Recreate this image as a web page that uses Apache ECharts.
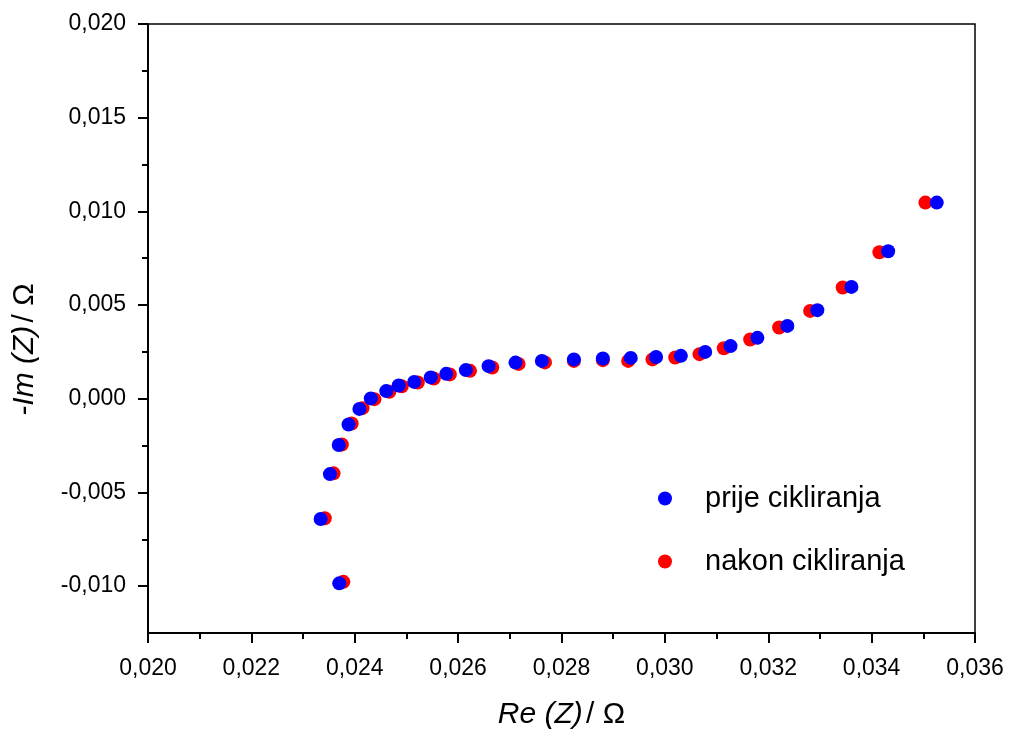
<!DOCTYPE html>
<html>
<head>
<meta charset="utf-8">
<script src="https://cdn.jsdelivr.net/npm/echarts@6/dist/echarts.min.js"></script>
<style>html,body{margin:0;padding:0;background:#fff}#c{width:1009px;height:731px}</style>
</head>
<body>
<div id="c"></div>
<script>
// Data (Ω)
const prijeX = [0.02370, 0.02334, 0.02352, 0.02369, 0.02388, 0.02409, 0.02431, 0.02461, 0.02485, 0.02515, 0.02547, 0.02577, 0.02615, 0.02659, 0.02711, 0.02762, 0.02824, 0.02880, 0.02934, 0.02983, 0.03031, 0.03078, 0.03127, 0.03179, 0.03237, 0.03295, 0.03361, 0.03432, 0.03526];
const prijeY = [-0.00985, -0.00642, -0.00402, -0.00247, -0.00137, -0.00054, 0.00002, 0.00041, 0.00071, 0.00090, 0.00114, 0.00133, 0.00153, 0.00174, 0.00193, 0.00202, 0.00210, 0.00215, 0.00218, 0.00223, 0.00229, 0.00250, 0.00281, 0.00325, 0.00389, 0.00473, 0.00597, 0.00787, 0.01047];
const nakonX = [0.02378, 0.02342, 0.02359, 0.02375, 0.02394, 0.02415, 0.02438, 0.02467, 0.02491, 0.02522, 0.02553, 0.02584, 0.02623, 0.02666, 0.02717, 0.02768, 0.02824, 0.02880, 0.02929, 0.02976, 0.03020, 0.03067, 0.03114, 0.03165, 0.03221, 0.03281, 0.03344, 0.03415, 0.03504];
const nakonY = [-0.00977, -0.00638, -0.00398, -0.00244, -0.00132, -0.00050, -0.00002, 0.00037, 0.00067, 0.00087, 0.00108, 0.00130, 0.00149, 0.00167, 0.00186, 0.00194, 0.00202, 0.00206, 0.00202, 0.00210, 0.00220, 0.00238, 0.00270, 0.00316, 0.00380, 0.00469, 0.00594, 0.00782, 0.01047];
const seriesNames = ['prije cikliranja', 'nakon cikliranja'];
const yMajorTicks = [-0.010, -0.005, 0.000, 0.005, 0.010, 0.015, 0.020];
const yMinorTicks = [-0.0075, -0.0025, 0.0025, 0.0075, 0.0125, 0.0175];

const fmt = v => v.toFixed(3).replace('.', ',').replace(/^-0,000$/, '0,000');
const zip = (xs, ys) => xs.map((x, i) => [x, ys[i]]);
const FONT = 'Arial, "Liberation Sans", sans-serif';

const chart = echarts.init(document.getElementById('c'), null, {renderer: 'canvas'});
chart.setOption({
  animation: false,
  backgroundColor: '#fff',
  grid: {left: 148, right: 34, top: 24, bottom: 98, show: true, borderColor: '#000', borderWidth: 1.5, outerBoundsMode: 'none', containLabel: false},
  legend: {
    orient: 'vertical', left: 653, top: 479,
    data: seriesNames,
    icon: 'circle', itemWidth: 70, itemHeight: 14, itemGap: 34,
    textStyle: {fontFamily: FONT, fontSize: 29, color: '#000', lineHeight: 22}
  },
  xAxis: {
    type: 'value', min: 0.020, max: 0.036, interval: 0.002,
    name: '{i|Re (Z)} {n|/ Ω}', nameLocation: 'middle', nameGap: 67,
    nameTextStyle: {rich: {i: {fontFamily: FONT, fontSize: 30, fontStyle: 'italic', color: '#000'}, n: {fontFamily: FONT, fontSize: 30, color: '#000'}}},
    axisLine: {show: true, onZero: false, lineStyle: {color: '#000', width: 2}},
    axisTick: {show: true, inside: false, length: 10, lineStyle: {color: '#000', width: 2}},
    minorTick: {show: true, splitNumber: 2, length: 6, lineStyle: {color: '#000', width: 2}},
    splitLine: {show: false},
    axisLabel: {formatter: fmt, fontFamily: FONT, fontSize: 23, color: '#000', margin: 24}
  },
  yAxis: [{
    type: 'value', min: -0.0125, max: 0.020,
    name: '{i|-Im (Z)} {n|/ Ω}', nameLocation: 'middle', nameGap: 108, nameRotate: 90,
    nameTextStyle: {padding: [0, 42, 0, 0], rich: {i: {fontFamily: FONT, fontSize: 30, fontStyle: 'italic', color: '#000'}, n: {fontFamily: FONT, fontSize: 30, color: '#000'}}},
    axisLine: {show: true, onZero: false, lineStyle: {color: '#000', width: 2}},
    axisTick: {show: true, inside: false, length: 10, customValues: yMajorTicks, lineStyle: {color: '#000', width: 2}},
    splitLine: {show: false},
    axisLabel: {customValues: yMajorTicks, formatter: fmt, fontFamily: FONT, fontSize: 23, color: '#000', margin: 22}
  }, {
    type: 'value', min: -0.0125, max: 0.020, position: 'left',
    axisLine: {show: false},
    axisTick: {show: true, inside: false, length: 6, customValues: yMinorTicks, lineStyle: {color: '#000', width: 2}},
    axisLabel: {show: false},
    splitLine: {show: false}
  }],
  series: [
    {name: seriesNames[1], type: 'scatter', symbol: 'circle', symbolSize: 14, itemStyle: {color: '#ff0000', opacity: 1}, data: zip(nakonX, nakonY)},
    {name: seriesNames[0], type: 'scatter', symbol: 'circle', symbolSize: 14, itemStyle: {color: '#0000ff', opacity: 1}, data: zip(prijeX, prijeY)}
  ]
});
</script>
</body>
</html>
